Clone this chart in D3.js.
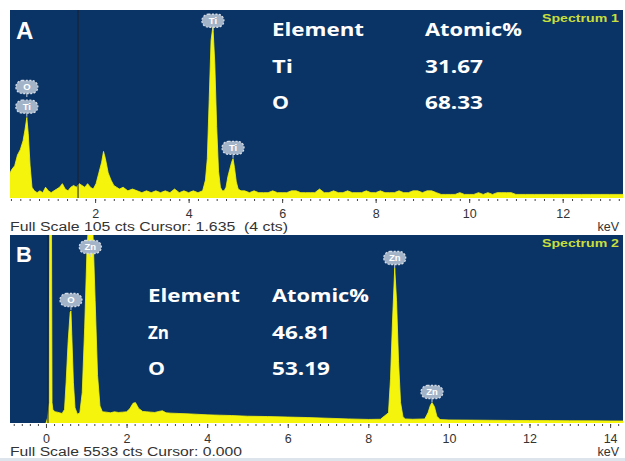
<!DOCTYPE html>
<html>
<head>
<meta charset="utf-8">
<style>
  body { margin: 0; background: #fff; }
  .tick-label { font-family: "Liberation Sans", Arial, sans-serif; font-size: 12.5px; fill: #333; }
  .table-text { font-family: "Open Sans", sans-serif; font-weight: bold; font-size: 17px; fill: #fff; }
  .spec-name { font-family: "Liberation Sans", Arial, sans-serif; font-weight: bold; font-size: 11px; fill: #c8de3c; }
  .panel-letter { font-family: "Liberation Sans", Arial, sans-serif; font-weight: bold; fill: #fff; }
  .badge-text { font-family: "Liberation Sans", Arial, sans-serif; font-weight: bold; font-size: 9.5px; fill: #fff; }
</style>
<script src="https://d3js.org/d3.v7.min.js"></script>
</head>
<body>
<svg id="chart" width="625" height="461"></svg>
<script>
// ---- Spectrum 1 (TiO2) : energy in keV, counts ----
const energyA = [0.18,0.22,0.28,0.34,0.40,0.46,0.50,0.54,0.57,0.61,0.65,0.70,0.76,0.82,0.88,0.94,1.00,1.06,1.12,1.18,1.24,1.30,1.36,1.42,1.48,1.54,1.60,1.66,1.72,1.78,1.84,1.90,1.96,2.02,2.08,2.14,2.18,2.22,2.28,2.34,2.40,2.46,2.52,2.60,2.70,2.80,2.90,3.00,3.10,3.20,3.30,3.40,3.50,3.60,3.70,3.80,3.90,4.00,4.10,4.20,4.30,4.36,4.40,4.44,4.48,4.52,4.56,4.60,4.64,4.68,4.72,4.76,4.80,4.84,4.88,4.92,4.95,4.98,5.02,5.06,5.12,5.20,5.30,5.40,5.50,5.60,5.70,5.80,5.90,6.00,6.10,6.20,6.30,6.40,6.50,6.60,6.70,6.80,6.90,7.00,7.10,7.20,7.30,7.40,7.50,7.60,7.70,7.80,7.90,8.00,8.10,8.20,8.30,8.40,8.50,8.60,8.70,8.80,8.90,9.00,9.10,9.20,9.30,9.40,9.50,9.60,9.70,9.80,9.90,10.0,10.1,10.2,10.3,10.4,10.5,10.6,10.7,10.8,10.9,11.0,11.2,11.4,11.6,11.8,12.0,12.2,12.4,12.6,12.8,13.0,13.29];
const countsA = [14,16,18,24,27,32,38,45,36,18,6,4,3,4,3,6,4,3,4,5,6,8,5,4,6,7,6,8,7,6,8,6,5,8,14,20,26,22,14,10,7,6,5,6,4,5,4,3,4,3,4,3,4,3,5,3,4,3,4,3,4,10,22,55,88,96,75,40,15,6,4,4,6,12,16,20,22,17,9,5,4,4,3,4,3,3,3,4,3,3,3,4,4,3,3,3,3,5,3,3,4,3,3,4,3,3,3,4,3,3,4,3,3,3,4,3,3,4,4,3,4,4,3,2,2,2,2,3,2,2,2,3,2,3,2,3,3,3,3,2,2,2,2,2,2,2,2,2,2,2,2];

// ---- Spectrum 2 (ZnO) ----
const energyB = [0.00,0.04,0.08,0.10,0.11,0.13,0.15,0.17,0.22,0.28,0.34,0.40,0.46,0.50,0.55,0.60,0.62,0.64,0.68,0.72,0.78,0.84,0.90,0.96,1.02,1.08,1.12,1.16,1.22,1.28,1.34,1.40,1.50,1.60,1.70,1.80,1.90,2.00,2.08,2.16,2.22,2.30,2.40,2.50,2.60,2.70,2.80,2.89,2.98,3.10,3.30,3.50,3.70,4.00,4.30,4.60,5.00,5.50,6.00,6.50,7.00,7.50,8.00,8.30,8.50,8.55,8.60,8.655,8.70,8.75,8.80,8.86,8.92,9.10,9.40,9.48,9.54,9.58,9.64,9.70,9.78,10.0,10.5,11.0,11.5,12.0,12.5,13.0,13.5,14.0,14.32];
const countsB = [0,150,600,9000,9000,9000,600,400,330,320,300,280,400,1200,2400,3250,3300,2600,1200,450,260,300,900,2800,5200,6200,6200,5800,3600,1400,500,330,320,300,330,310,320,330,420,580,600,430,340,330,320,310,340,360,300,290,280,270,260,240,230,220,200,190,175,160,140,120,105,110,300,1300,3000,4560,3600,1800,600,180,120,110,120,300,520,600,480,200,100,90,85,80,75,72,70,66,64,60,58];

// tick labels (keV)
const ticksA = [2, 4, 6, 8, 10, 12];
const ticksB = [0, 2, 4, 6, 8, 10, 12, 14];

// element badges: energy, count level of badge, label
const badgeEnergyA = [0.54, 0.54, 4.52, 4.95];
const badgeCountA = [62, 51, 99, 28];
const badgeLabelA = ["O", "Ti", "Ti", "Ti"];
const badgeEnergyB = [0.62, 1.10, 8.655, 9.58];
const badgeCountB = [3620, 5180, 4856, 912];
const badgeLabelB = ["O", "Zn", "Zn", "Zn"];

// quantification tables
const elementsA = ["Ti", "O"];
const atomicA = ["31.67", "68.33"];
const elementsB = ["Zn", "O"];
const atomicB = ["46.81", "53.19"];

const svg = d3.select("#chart");
const BLUE = "#0b3466";
const YELLOW = "#f4f40c";

function drawPanel(p) {
  const g = svg.append("g");
  const x = d3.scaleLinear().domain(p.domain).range([10, 623]);
  const y = d3.scaleLinear().domain([0, p.fullScale]).range([p.base, p.top]);

  g.append("rect").attr("x", 10).attr("y", p.top).attr("width", 613).attr("height", p.base - p.top).attr("fill", BLUE);

  const clipId = "clip" + p.letter;
  svg.append("clipPath").attr("id", clipId).append("rect")
    .attr("x", 10).attr("y", p.top).attr("width", 613).attr("height", p.base - p.top);

  const pts = p.energy.map((e, i) => [e, p.counts[i]]);
  const area = d3.area().x(d => x(d[0])).y0(p.base).y1(d => y(d[1]));
  g.append("path").datum(pts).attr("clip-path", `url(#${clipId})`)
    .attr("d", area).attr("fill", YELLOW).attr("stroke", YELLOW).attr("stroke-width", 0.8);

  // cursor line
  g.append("line").attr("x1", x(p.cursor)).attr("x2", x(p.cursor))
    .attr("y1", p.top).attr("y2", p.base).attr("stroke", "#1b1f2c").attr("stroke-width", 1);

  // axis
  const minor = d3.range(Math.ceil(p.domain[0] * 5) / 5, p.domain[1], 0.2);
  g.append("g").attr("transform", `translate(0,${p.base + 1})`)
    .call(d3.axisBottom(x).tickValues(minor).tickSize(2).tickFormat(""))
    .call(a => a.select(".domain").remove())
    .call(a => a.selectAll("line").attr("stroke", "#444"));
  g.append("g").attr("transform", `translate(0,${p.base + 1})`)
    .call(d3.axisBottom(x).tickValues(p.ticks).tickSize(4).tickPadding(6))
    .call(a => a.select(".domain").remove())
    .call(a => a.selectAll("line").attr("stroke", "#444"))
    .call(a => a.selectAll("text").attr("class", "tick-label").attr("font-size", null).attr("font-family", null).attr("fill", null));

  g.append("text").attr("class", "tick-label").attr("x", 10).attr("y", p.base + 33)
    .attr("textLength", p.footerLen).attr("lengthAdjust", "spacingAndGlyphs").text(p.footer);
  g.append("text").attr("class", "tick-label").attr("x", 619).attr("y", p.base + 33).attr("text-anchor", "end").text("keV");

  g.append("text").attr("class", "spec-name").attr("x", 542).attr("y", p.top + 12)
    .attr("textLength", 77).attr("lengthAdjust", "spacingAndGlyphs").text(p.name);
  g.append("text").attr("class", "panel-letter").attr("x", 16).attr("y", p.top + p.letterDy)
    .attr("font-size", p.letterSize).text(p.letter);

  // badges
  p.badgeE.forEach((e, i) => {
    const bx = x(e), by = y(p.badgeC[i]);
    const b = g.append("g").attr("transform", `translate(${bx},${by})`);
    b.append("line").attr("y1", 5).attr("y2", 10).attr("stroke", "#c5cfdc").attr("stroke-width", 1);
    b.append("rect").attr("x", -11).attr("y", -6.5).attr("width", 22).attr("height", 13).attr("rx", 6.5)
      .attr("fill", "#a3b3c8").attr("stroke", "#d4dce6").attr("stroke-width", 1.3).attr("stroke-dasharray", "2,1.5");
    b.append("text").attr("class", "badge-text").attr("text-anchor", "middle").attr("y", 3.3).text(p.badgeL[i]);
  });

  // table
  const t = p.table;
  const addT = (txt, tx, ty, w) => g.append("text").attr("class", "table-text").attr("x", tx).attr("y", ty)
    .attr("textLength", w).attr("lengthAdjust", "spacingAndGlyphs").text(txt);
  addT("Element", t.c1, t.y0, 92);
  addT("Atomic%", t.c2, t.y0, 97);
  p.elements.forEach((el, i) => {
    addT(el, t.c1, t.y0 + (i + 1) * 36.5, el.length === 1 ? 17 : 21);
    addT(p.atomic[i], t.c2, t.y0 + (i + 1) * 36.5, 58);
  });
}

drawPanel({
  letter: "A", letterSize: 24, letterDy: 29, name: "Spectrum 1",
  energy: energyA, counts: countsA, fullScale: 105, domain: [0.18, 13.29],
  top: 10, base: 198, cursor: 1.635, ticks: ticksA,
  footer: "Full Scale 105 cts Cursor: 1.635\u00a0 (4 cts)", footerLen: 278,
  badgeE: badgeEnergyA, badgeC: badgeCountA, badgeL: badgeLabelA,
  elements: elementsA, atomic: atomicA, table: { c1: 272, c2: 425, y0: 36 }
});

drawPanel({
  letter: "B", letterSize: 22, letterDy: 27, name: "Spectrum 2",
  energy: energyB, counts: countsB, fullScale: 5533, domain: [-0.893, 14.32],
  top: 235, base: 423, cursor: 0.05, ticks: ticksB,
  footer: "Full Scale 5533 cts Cursor: 0.000", footerLen: 232,
  badgeE: badgeEnergyB, badgeC: badgeCountB, badgeL: badgeLabelB,
  elements: elementsB, atomic: atomicB, table: { c1: 148, c2: 272, y0: 302 }
});

svg.append("rect").attr("x", 0).attr("y", 458).attr("width", 625).attr("height", 3).attr("fill", "#dde4ec");
</script>
</body>
</html>
